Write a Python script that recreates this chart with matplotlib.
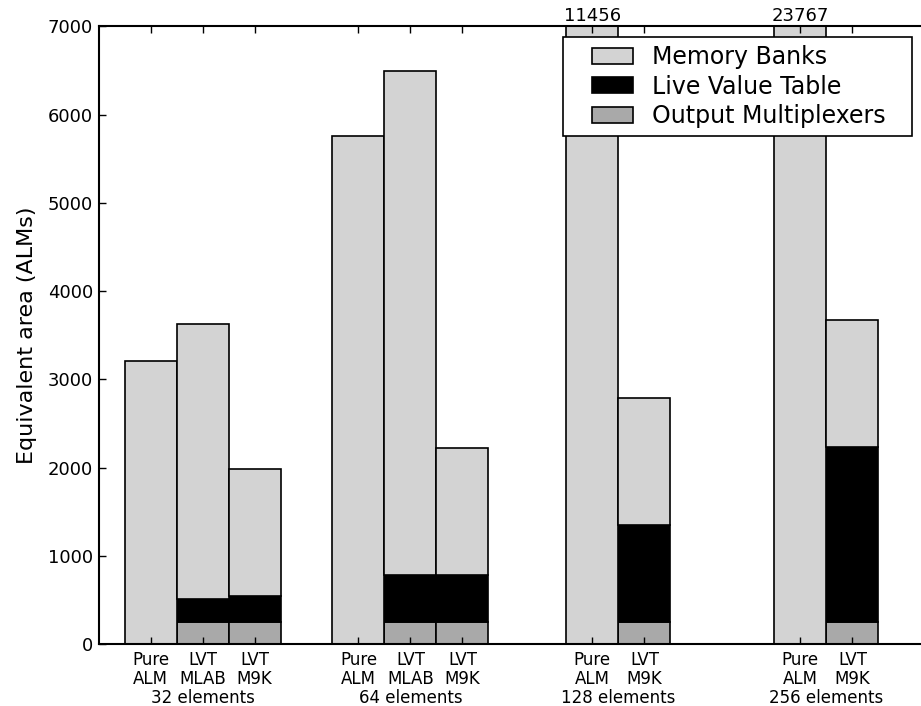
"""Equivalent area breakdown for multi-ported memory implementations."""

import matplotlib
matplotlib.use("Agg")
import matplotlib.pyplot as plt
from matplotlib.container import BarContainer
from matplotlib.legend_handler import HandlerPatch, update_from_first_child
from matplotlib.patches import Rectangle
from matplotlib.transforms import blended_transform_factory


GROUPS = ["32 elements", "64 elements", "128 elements", "256 elements"]
BAR_LABELS = [
    "Pure\nALM", "LVT\nMLAB", "LVT\nM9K",
    "Pure\nALM", "LVT\nMLAB", "LVT\nM9K",
    "Pure\nALM", "LVT\nM9K",
    "Pure\nALM", "LVT\nM9K",
]
BAR_GROUP = [0, 0, 0, 1, 1, 1, 2, 2, 3, 3]

# stacked components (ALMs), bottom to top
output_mux = [0, 246, 246, 0, 246, 246, 0, 246, 0, 246]
live_value_table = [0, 261, 295, 0, 533, 533, 0, 1101, 0, 1991]
memory_banks = [3212, 3125, 1440, 5763, 5718, 1447, 11456, 1440, 23767, 1440]

YMAX = 7000

# bar centres along the x axis, one bar width = 1
x_pos = [1, 2, 3, 5, 6, 7, 9.5, 10.5, 13.5, 14.5]


def right_swatch(legend, orig_handle, xdescent, ydescent, width, height, fontsize):
    # legend swatch sits at the right of its slot, leaving a wide left margin
    w = width * 0.665
    return Rectangle((-xdescent + width - w, -ydescent), w, height)


fig = plt.figure(figsize=(9.21, 7.06), dpi=100)
ax = fig.add_axes([0.107, 0.0878, 0.893, 0.8747])

ax.bar(x_pos, output_mux, 1.0, color="#a9a9a9", edgecolor="black", linewidth=1.2,
       label="Output Multiplexers")
ax.bar(x_pos, live_value_table, 1.0, bottom=output_mux, color="black",
       edgecolor="black", linewidth=1.2, label="Live Value Table")
mem_bottom = [m + l for m, l in zip(output_mux, live_value_table)]
ax.bar(x_pos, memory_banks, 1.0, bottom=mem_bottom, color="#d3d3d3",
       edgecolor="black", linewidth=1.2, label="Memory Banks")

# totals of bars that run off the top of the chart
for x, b, m in zip(x_pos, mem_bottom, memory_banks):
    if b + m > YMAX:
        ax.text(x, YMAX + 20, str(b + m), ha="center", va="bottom", fontsize=13)

ax.set_xlim(0, 15.82)
ax.set_ylim(0, YMAX)
ax.set_xticks(x_pos)
ax.set_xticklabels(BAR_LABELS, fontsize=12, linespacing=1.1)
ax.set_yticks(range(0, YMAX + 1, 1000))
ax.tick_params(axis="y", labelsize=13, direction="in", length=5, width=1, pad=4)
ax.tick_params(axis="x", direction="in", length=5, width=1, pad=5, top=True)
ax.set_ylabel("Equivalent area (ALMs)", fontsize=16, labelpad=8)
ax.spines["right"].set_visible(False)
for side in ("left", "top", "bottom"):
    ax.spines[side].set_linewidth(1.5)

# group names under the bar labels
trans = blended_transform_factory(ax.transData, ax.transAxes)
for g, name in enumerate(GROUPS):
    xs = [x for x, gi in zip(x_pos, BAR_GROUP) if gi == g]
    ax.text(sum(xs) / len(xs), -0.0725, name, transform=trans, ha="center",
            va="top", fontsize=12)

handles, labels = ax.get_legend_handles_labels()
swatch = HandlerPatch(patch_func=right_swatch, update_func=update_from_first_child)
leg = ax.legend(handles[::-1], labels[::-1], loc="upper right",
                bbox_to_anchor=(0.5647, 0.5, 0.4243, 0.483), mode="expand",
                borderaxespad=0, fontsize=17, fancybox=False, framealpha=1,
                edgecolor="black", handlelength=2.61, handleheight=0.65,
                handletextpad=0.8, labelspacing=0.23, borderpad=0.35,
                handler_map={BarContainer: swatch})
leg.get_frame().set_linewidth(1.2)

fig.savefig("out.png", dpi=100)
